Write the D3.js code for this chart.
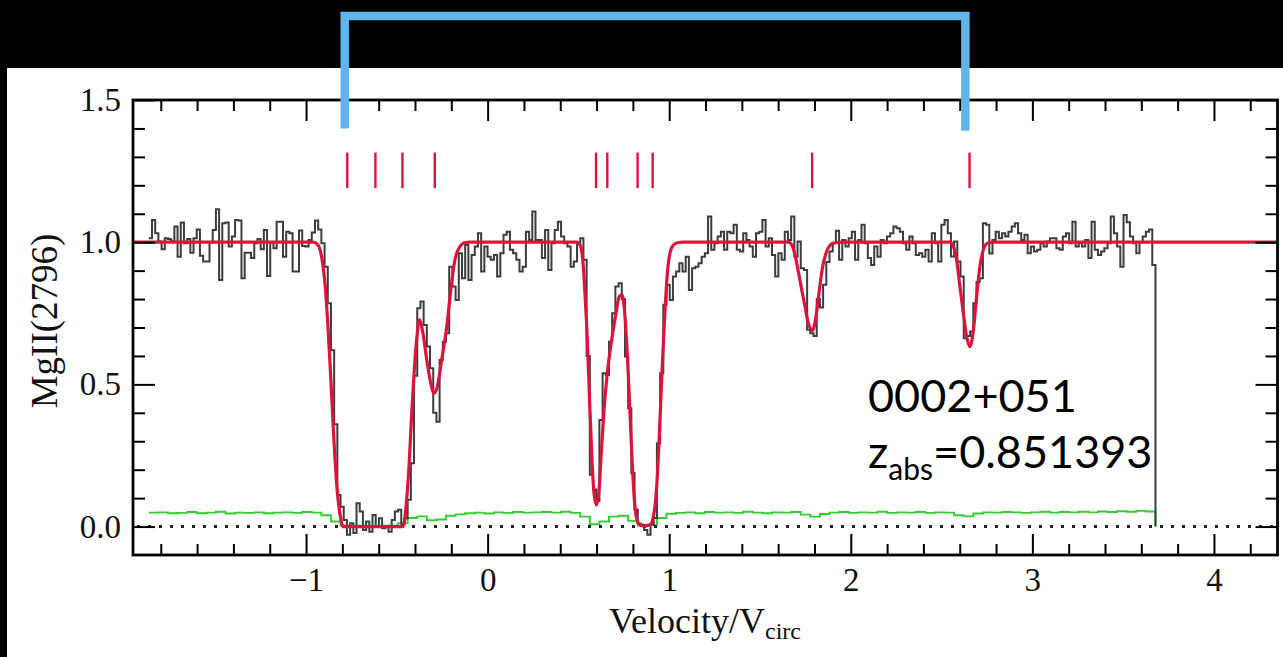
<!DOCTYPE html>
<html>
<head>
<meta charset="utf-8">
<script src="https://cdn.jsdelivr.net/npm/d3@7"></script>
<style>
  html, body { margin: 0; padding: 0; background: #000; overflow: hidden; }
  svg { display: block; }
</style>
</head>
<body>
<svg id="chart" width="1283" height="657"></svg>
<script>
// ---------------- data ----------------
// Normalised MgII 2796 flux, one value per spectral pixel (left edge of pixel 0 at fluxStart)
const fluxStart = -1.866;
const fluxStep = 0.0176;
const flux = [
  1.014, 1.078, 1.031, 1.002, 0.975, 1.014, 1.011, 1.002, 1.055, 0.949,
  1.069, 0.996, 1.011, 0.963, 1.014, 1.045, 0.952, 0.932, 0.932, 0.999,
  1.043, 1.116, 0.867, 1.067, 1.069, 0.985, 1.020, 1.078, 1.076, 0.873,
  0.963, 0.963, 0.944, 0.996, 1.011, 0.975, 1.043, 0.881, 0.999, 0.979,
  1.072, 1.072, 0.949, 1.037, 1.031, 0.897, 0.897, 1.041, 0.987, 0.985,
  1.008, 1.034, 1.076, 1.045, 0.996, 0.914,
  0.785, 0.62, 0.36, 0.111, 0.07, 0.023, -0.029, 0.012, -0.023, 0.082,
  0.053, -0.012, 0.018, -0.018, 0.041, 0.0, 0.029, -0.006, 0.0, -0.018,
  0.023, 0.053, 0.059, 0.006, 0.029, 0.094, 0.223, 0.53, 0.768, 0.791,
  0.709, 0.633, 0.557, 0.40, 0.369, 0.586, 0.650, 0.68, 0.914, 0.844,
  0.797, 0.961, 0.873, 0.99, 0.867, 0.955, 0.985, 1.031, 0.897, 0.985,
  0.949, 0.938, 0.955, 0.879, 0.961, 1.026, 1.037, 0.973, 0.961, 0.938,
  0.897, 0.914, 1.037, 1.008, 1.108, 1.008,
  1.008, 0.944, 1.043, 0.902, 0.996, 1.043, 1.072, 1.020, 0.996, 0.985,
  0.914, 0.932, 0.996, 1.014, 0.938, 0.60, 0.182, 0.13, 0.09, 0.375,
  0.539, 0.533, 0.65, 0.75, 0.844, 0.856, 0.80, 0.598, 0.416, 0.188,
  0.06, 0.01, 0.006, -0.012, -0.029, 0.006, 0.03, 0.293, 0.539, 0.78,
  0.85, 0.797, 0.879, 0.897, 0.926, 0.897, 0.949, 0.832, 0.908, 0.914,
  0.926, 0.949, 0.961, 1.09, 0.973, 0.996, 1.020, 1.037, 0.973, 1.037,
  1.031, 1.061, 0.973,
  0.967, 1.031, 1.008, 0.985, 0.949, 1.031, 1.037, 1.078, 0.985, 1.014,
  0.955, 0.879, 0.961, 0.938, 1.037, 1.008, 1.09, 0.949, 1.002, 0.908,
  0.902, 0.692, 0.68, 0.67, 0.80, 0.77, 0.85, 0.93, 0.967, 0.996,
  1.04, 0.938, 1.008, 0.985, 1.014, 1.037, 0.938, 1.008, 1.061, 0.996,
  0.944, 0.92, 0.985, 0.949, 1.008, 0.996, 1.020, 1.031, 1.055, 1.049,
  1.037, 0.996, 0.973, 1.020, 0.996, 0.955, 0.961, 0.949, 0.973, 0.932,
  1.031, 0.996, 0.932, 1.061, 1.078, 1.031,
  0.95, 1.002, 0.932, 0.879, 0.662, 0.67, 0.686, 0.785, 0.86, 0.873,
  1.067, 1.061, 0.96, 1.008, 1.037, 1.014, 1.031, 1.020, 1.037, 1.055,
  1.067, 1.031, 1.008, 1.026, 0.961, 0.985, 0.967, 0.973, 0.996, 0.985,
  1.002, 1.014, 1.014, 0.979, 0.973, 1.020, 1.031, 0.996, 1.072, 0.985,
  0.996, 0.985, 1.008, 0.944, 1.072, 0.973, 0.955, 0.967, 0.979, 0.996,
  1.09, 1.031, 0.985, 0.914, 1.096, 1.07, 1.020, 0.996, 0.961, 1.0,
  1.020, 1.037, 1.045, 0.92
];

// 1-sigma error spectrum, binned by three pixels
const errorStep = 0.0528;
const error = [
  0.049, 0.050, 0.047, 0.048, 0.051, 0.047, 0.049, 0.052, 0.046, 0.049,
  0.048, 0.050, 0.047, 0.049, 0.050, 0.048, 0.051, 0.049, 0.040, 0.018,
  0.004, 0.003, 0.003, 0.002, 0.003, 0.004, 0.012, 0.030, 0.036, 0.022,
  0.025, 0.038, 0.043, 0.047, 0.049, 0.046, 0.050, 0.048, 0.051, 0.049,
  0.050, 0.051, 0.049, 0.052, 0.048, 0.035, 0.008, 0.018, 0.035, 0.038,
  0.020, 0.004, 0.006, 0.030, 0.045, 0.048, 0.050, 0.047, 0.051, 0.049,
  0.050, 0.048, 0.052, 0.049, 0.047, 0.050, 0.049, 0.051, 0.042, 0.035,
  0.044, 0.049, 0.051, 0.048, 0.050, 0.049, 0.052, 0.048, 0.050, 0.049,
  0.051, 0.048, 0.050, 0.049, 0.040, 0.036, 0.046, 0.050, 0.049, 0.051,
  0.050, 0.048, 0.050, 0.052, 0.049, 0.051, 0.050, 0.052, 0.050, 0.053,
  0.051, 0.054, 0.052, 0.055, 0.053
];

// Voigt-profile model, sampled
const modelVel = [
  -1.953, -0.961, -0.934, -0.912, -0.895, -0.879, -0.862, -0.846, -0.829, -0.812, -0.796,
  -0.473, -0.460, -0.446, -0.431, -0.418, -0.405, -0.391, -0.376, -0.358, -0.335, -0.317,
  -0.295, -0.277, -0.253, -0.225, -0.203, -0.180, -0.152, -0.124, -0.097,
  0.490, 0.509, 0.524, 0.536, 0.549, 0.560, 0.573, 0.586, 0.599, 0.612, 0.626, 0.641,
  0.659, 0.683, 0.707, 0.725, 0.740, 0.755, 0.769, 0.784, 0.799, 0.813, 0.830, 0.857,
  0.894, 0.916, 0.931, 0.946, 0.960, 0.975, 0.990, 1.004, 1.023, 1.050, 1.078,
  1.656, 1.675, 1.693, 1.711, 1.730, 1.748, 1.766, 1.790, 1.808, 1.827, 1.845, 1.867,
  1.895, 1.922, 1.950,
  2.546, 2.565, 2.583, 2.601, 2.620, 2.638, 2.656, 2.675, 2.693, 2.711, 2.730, 2.752,
  2.785, 4.35
];
const modelFlux = [
  1.0, 1.0, 0.99, 0.94, 0.85, 0.70, 0.50, 0.30, 0.13, 0.04, 0.0,
  0.0, 0.012, 0.094, 0.234, 0.40, 0.54, 0.656, 0.727, 0.686, 0.586, 0.516,
  0.469, 0.492, 0.586, 0.703, 0.832, 0.938, 0.985, 0.999, 1.0,
  1.0, 0.99, 0.938, 0.82, 0.656, 0.469, 0.258, 0.117, 0.076, 0.117, 0.258, 0.41,
  0.539, 0.656, 0.75, 0.809, 0.815, 0.75, 0.61, 0.40, 0.188, 0.059, 0.012, 0.002,
  0.006, 0.047, 0.14, 0.328, 0.539, 0.738, 0.891, 0.961, 0.99, 0.999, 1.0,
  1.0, 0.99, 0.955, 0.897, 0.832, 0.774, 0.715, 0.69, 0.738, 0.832, 0.914, 0.967,
  0.994, 0.999, 1.0,
  1.0, 0.985, 0.938, 0.844, 0.75, 0.668, 0.633, 0.69, 0.809, 0.914, 0.973, 0.996,
  1.0, 1.0
];

// Fitted absorption components
const componentVel = [-0.773, -0.618, -0.469, -0.291, 0.597, 0.659, 0.826, 0.909, 1.787, 2.654];

const xTicks = [-1, 0, 1, 2, 3, 4];
const yTicks = [0.0, 0.5, 1.0, 1.5];
const bracketVel = [-0.787, 2.631];
const sightline = "0002+051";
const zabs = "0.851393";

// ---------------- layout ----------------
const svg = d3.select("#chart");
const W = 1283, H = 657;
const plot = { left: 133, right: 1277.5, top: 100, bottom: 555 };

const x = d3.scaleLinear().domain([-1.953, 4.35]).range([plot.left, plot.right]);
const y = d3.scaleLinear().domain([-0.1, 1.5]).range([plot.bottom, plot.top]);

svg.append("rect").attr("x", 0).attr("y", 0).attr("width", W).attr("height", H).attr("fill", "#000");
svg.append("rect").attr("x", 7).attr("y", 68).attr("width", W - 7).attr("height", H - 68).attr("fill", "#fff");

const serif = "'Liberation Serif', 'DejaVu Serif', serif";

// ---------------- spectra ----------------
const fluxEnd = fluxStart + flux.length * fluxStep;
const fluxPts = flux.map((f, i) => [fluxStart + i * fluxStep, f]);
fluxPts.push([fluxEnd, flux[flux.length - 1]], [fluxEnd, 0]);

const errEnd = fluxStart + error.length * errorStep;
const errPts = error.map((e, i) => [fluxStart + i * errorStep, e]);
errPts.push([errEnd, error[error.length - 1]], [errEnd, 0]);

const stepLine = d3.line().x(d => x(d[0])).y(d => y(d[1])).curve(d3.curveStepAfter);

svg.append("path").attr("d", stepLine(errPts))
  .attr("fill", "none").attr("stroke", "#33cc33").attr("stroke-width", 1.9);

svg.append("path").attr("d", stepLine(fluxPts))
  .attr("fill", "none").attr("stroke", "#3c3c3c").attr("stroke-width", 2)
  .attr("stroke-linejoin", "miter");

// zero level
svg.append("line")
  .attr("x1", plot.left + 4).attr("x2", plot.right)
  .attr("y1", y(0)).attr("y2", y(0))
  .attr("stroke", "#222").attr("stroke-width", 3)
  .attr("stroke-dasharray", "3,8");

// model
const modelLine = d3.line().x(d => x(d[0])).y(d => y(d[1])).curve(d3.curveMonotoneX);
svg.append("path").attr("d", modelLine(modelVel.map((v, i) => [v, modelFlux[i]])))
  .attr("fill", "none").attr("stroke", "#dc143c").attr("stroke-width", 3.2)
  .attr("stroke-linejoin", "round");

// component markers
svg.append("g").selectAll("line").data(componentVel).join("line")
  .attr("x1", d => x(d)).attr("x2", d => x(d))
  .attr("y1", y(1.19)).attr("y2", y(1.315))
  .attr("stroke", "#dc143c").attr("stroke-width", 2.4);

// ---------------- axes ----------------
const xMinor = d3.range(-9, 22).map(i => +(i * 0.2).toFixed(2)).filter(v => Math.abs(v - Math.round(v)) > 1e-6);
const yMinor = d3.range(0, 15).map(i => +(i * 0.1).toFixed(2)).filter(v => Math.abs(v * 2 - Math.round(v * 2)) > 1e-6);

function styleAxis(g) {
  g.select(".domain").remove();
  g.selectAll(".tick line").attr("stroke", "#000").attr("stroke-width", 2);
  g.selectAll("text").attr("font-family", serif).attr("font-size", 33).attr("fill", "#111");
}

const majorX = 21, minorX = 11, majorY = 22, minorY = 12;

svg.append("g").attr("transform", `translate(0,${plot.bottom})`)
  .call(d3.axisBottom(x).tickValues(xTicks).tickSize(-majorX).tickPadding(13)
    .tickFormat(d => d < 0 ? "\u2212" + Math.abs(d) : String(d)))
  .call(styleAxis);
svg.append("g").attr("transform", `translate(0,${plot.bottom})`)
  .call(d3.axisBottom(x).tickValues(xMinor).tickSize(-minorX).tickFormat(""))
  .call(styleAxis);
svg.append("g").attr("transform", `translate(0,${plot.top})`)
  .call(d3.axisTop(x).tickValues(xTicks).tickSize(-majorX).tickFormat(""))
  .call(styleAxis);
svg.append("g").attr("transform", `translate(0,${plot.top})`)
  .call(d3.axisTop(x).tickValues(xMinor).tickSize(-minorX).tickFormat(""))
  .call(styleAxis);

svg.append("g").attr("transform", `translate(${plot.left},0)`)
  .call(d3.axisLeft(y).tickValues(yTicks).tickSize(-majorY).tickPadding(12).tickFormat(d3.format(".1f")))
  .call(styleAxis);
svg.append("g").attr("transform", `translate(${plot.left},0)`)
  .call(d3.axisLeft(y).tickValues(yMinor).tickSize(-minorY).tickFormat(""))
  .call(styleAxis);
svg.append("g").attr("transform", `translate(${plot.right},0)`)
  .call(d3.axisRight(y).tickValues(yTicks).tickSize(-majorY).tickFormat(""))
  .call(styleAxis);
svg.append("g").attr("transform", `translate(${plot.right},0)`)
  .call(d3.axisRight(y).tickValues(yMinor).tickSize(-minorY).tickFormat(""))
  .call(styleAxis);

// frame
svg.append("rect")
  .attr("x", plot.left).attr("y", plot.top)
  .attr("width", plot.right - plot.left).attr("height", plot.bottom - plot.top)
  .attr("fill", "none").attr("stroke", "#000").attr("stroke-width", 2.8);

// axis titles
const xl = svg.append("text")
  .attr("x", 705).attr("y", 633)
  .attr("text-anchor", "middle")
  .attr("font-family", serif).attr("font-size", 36).attr("fill", "#111");
xl.append("tspan").text("Velocity/V");
xl.append("tspan").attr("font-size", 24).attr("dy", 6).text("circ");

svg.append("text")
  .attr("transform", `translate(57,321) rotate(-90)`)
  .attr("text-anchor", "middle")
  .attr("font-family", serif).attr("font-size", 37).attr("fill", "#111")
  .text("MgII(2796)");

// sightline annotation
const sans = "Lato, 'Open Sans', sans-serif";
svg.append("text")
  .attr("x", 868).attr("y", 412)
  .attr("font-family", sans).attr("font-size", 45).attr("fill", "#000")
  .text(sightline);
const zt = svg.append("text")
  .attr("x", 868).attr("y", 468)
  .attr("font-family", sans).attr("font-size", 45).attr("fill", "#000");
zt.append("tspan").text("z");
zt.append("tspan").attr("font-size", 30).attr("dy", 12).text("abs");
zt.append("tspan").attr("dy", -12).text("=" + zabs);

// velocity bracket spanning the absorption system
svg.append("path")
  .attr("d", d3.line()([
    [x(bracketVel[0]), y(1.40)],
    [x(bracketVel[0]), y(1.795)],
    [x(bracketVel[1]), y(1.795)],
    [x(bracketVel[1]), y(1.392)]
  ]))
  .attr("fill", "none").attr("stroke", "#62b4ea").attr("stroke-width", 8.5)
  .attr("stroke-linejoin", "miter");
</script>
</body>
</html>
